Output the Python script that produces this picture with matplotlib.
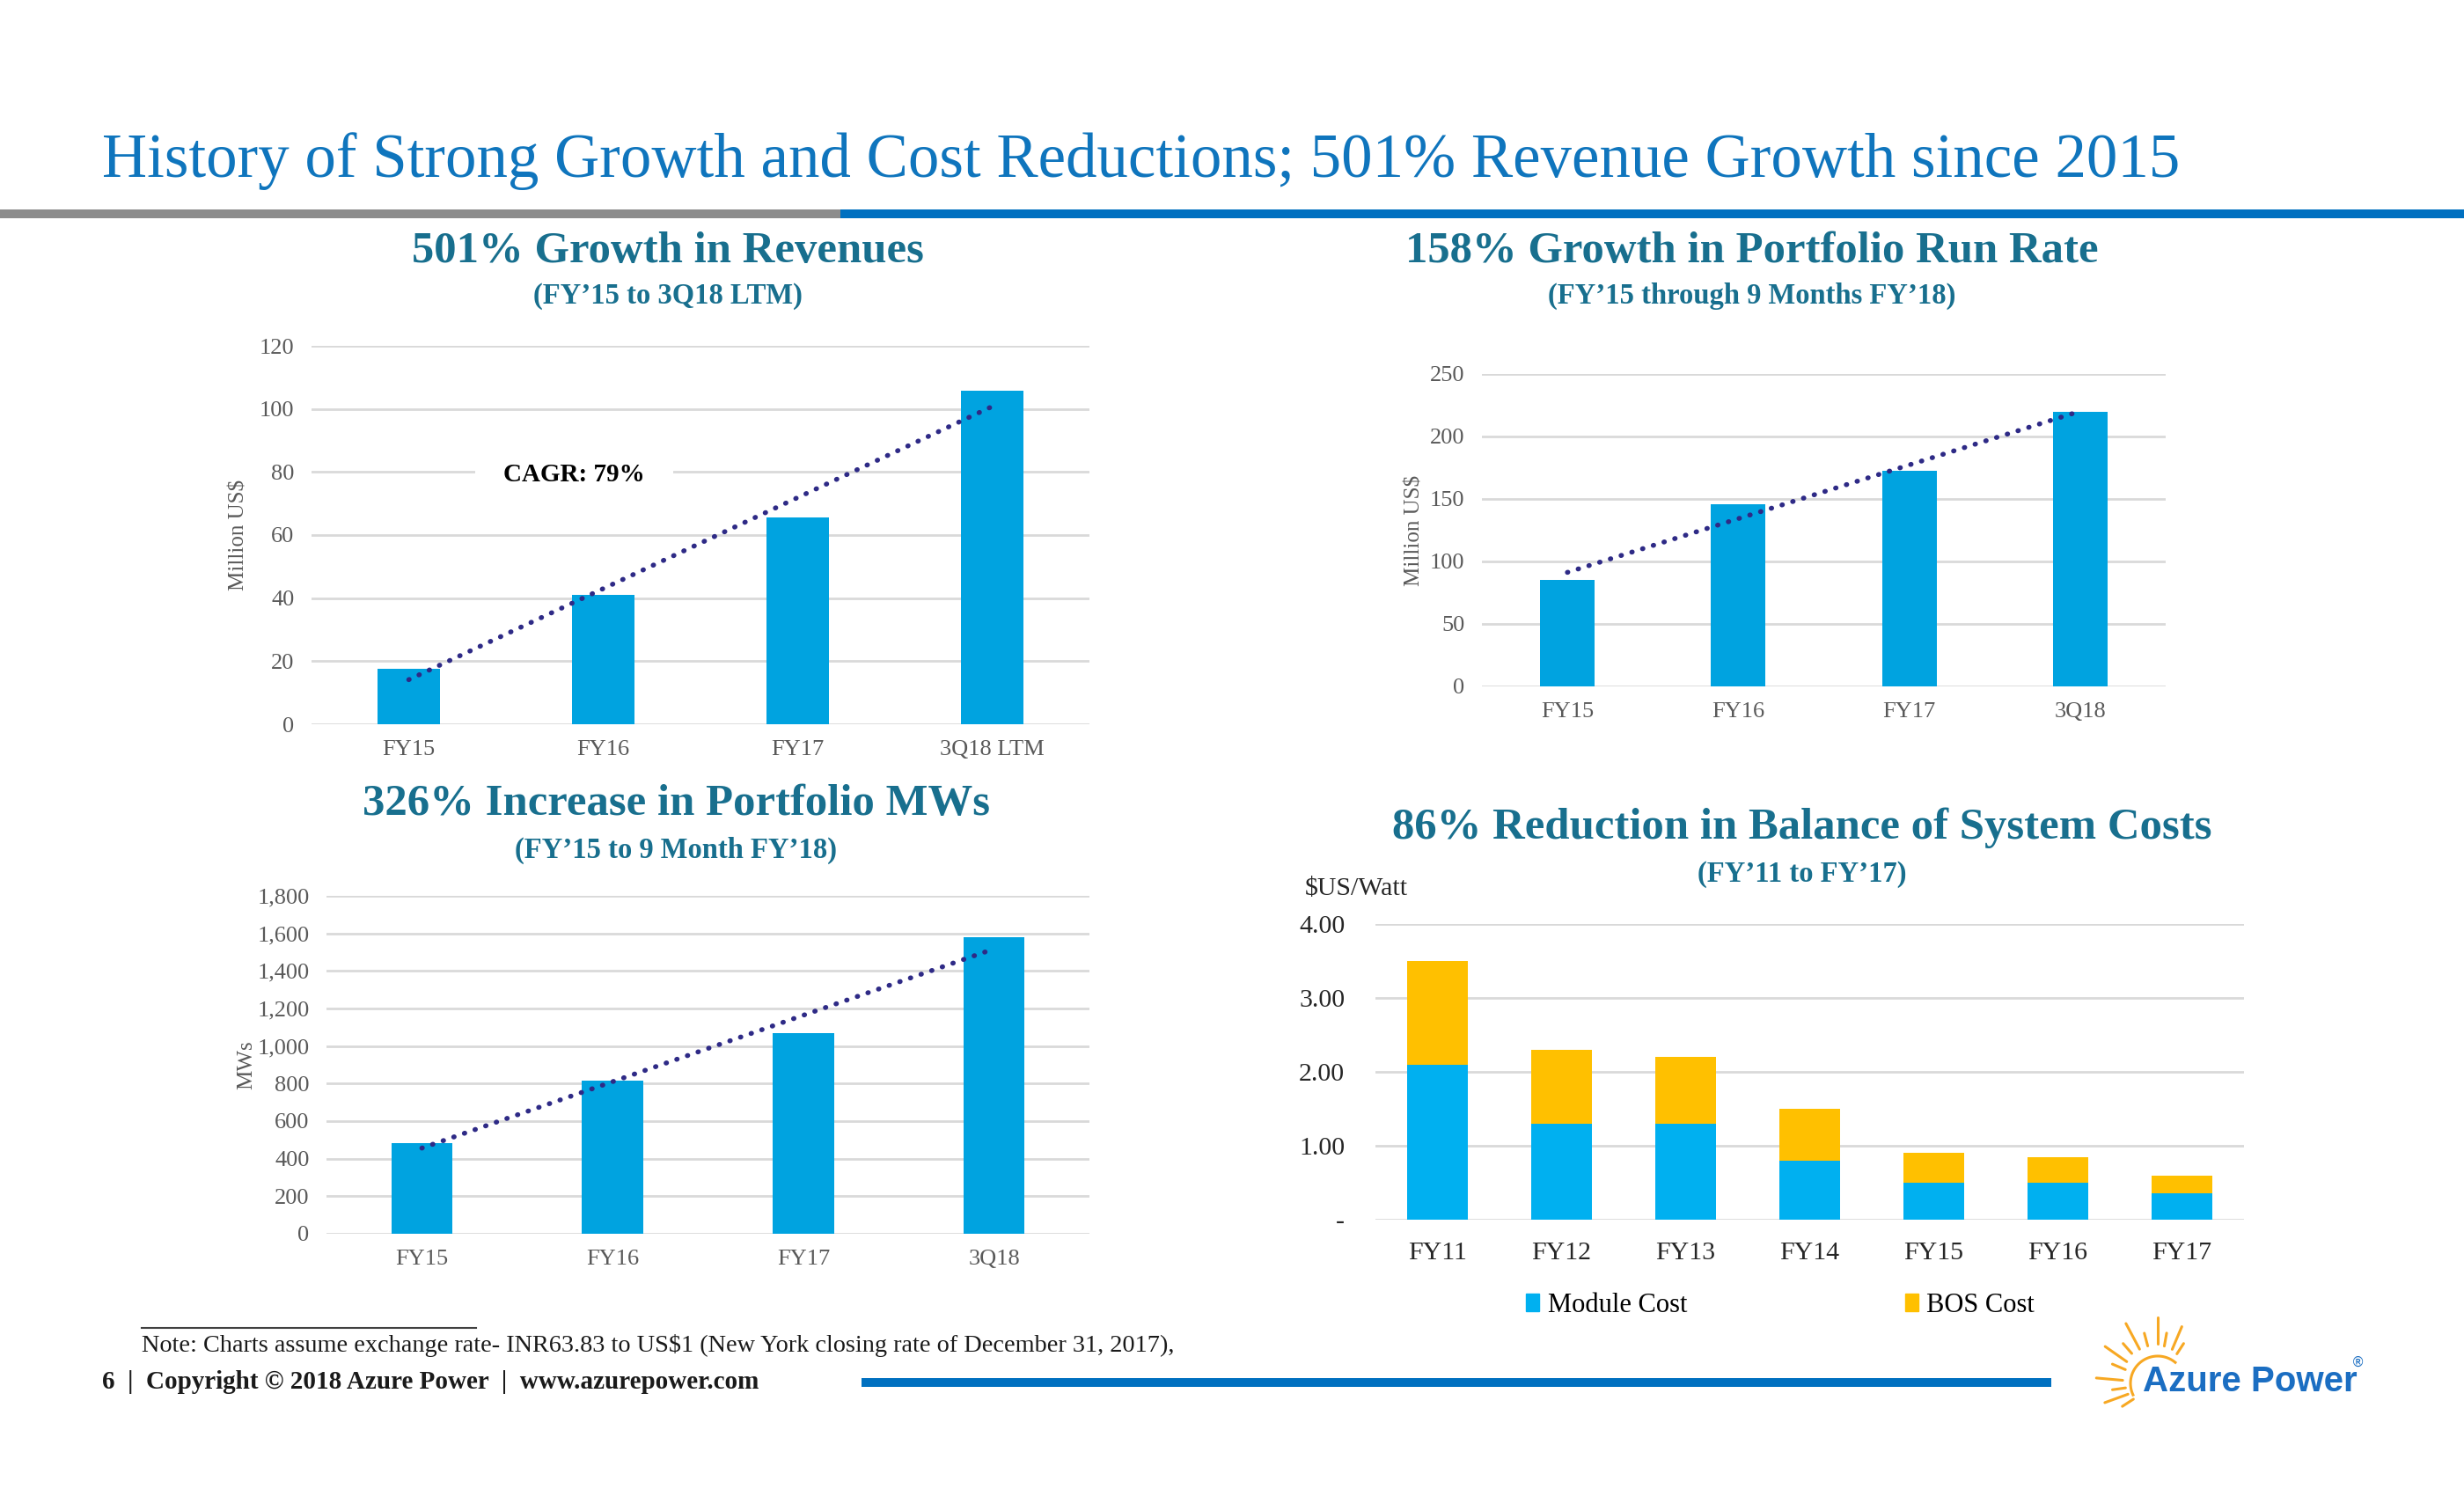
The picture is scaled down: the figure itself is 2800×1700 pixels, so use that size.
import numpy as np
import matplotlib
matplotlib.use("Agg")
import matplotlib.pyplot as plt
from matplotlib.patches import Rectangle, Patch
from matplotlib.ticker import FuncFormatter

plt.rcParams['font.family'] = ['Liberation Serif', 'DejaVu Serif']

# --- data ---
rev_cats = ['FY15', 'FY16', 'FY17', '3Q18 LTM']
rev_vals = [17.6, 41.0, 65.5, 105.7]

run_cats = ['FY15', 'FY16', 'FY17', '3Q18']
run_vals = [85, 146, 172.5, 219.5]

mw_cats = ['FY15', 'FY16', 'FY17', '3Q18']
mw_vals = [485, 815, 1068, 1580]

bos_cats = ['FY11', 'FY12', 'FY13', 'FY14', 'FY15', 'FY16', 'FY17']
module_cost = [2.10, 1.30, 1.30, 0.80, 0.50, 0.50, 0.36]
bos_cost = [1.40, 1.00, 0.90, 0.70, 0.40, 0.35, 0.23]

# colours
BAR = '#00a3e0'
MODULE = '#00b0f0'
BOS = '#ffc000'
TREND = '#2e2a86'
GRID = '#d9d9d9'
HEAD = '#0f75bd'
SUB = '#186f8e'
TICK = '#595959'

W, H = 2800, 1700
fig = plt.figure(figsize=(28, 17), dpi=100)

# background layer in pixel coords for slide decoration
bg = fig.add_axes([0, 0, 1, 1])
bg.set_xlim(0, W)
bg.set_ylim(H, 0)
bg.axis('off')


def rect(x0, y0, x1, y1):
    # pixel box -> figure fractions
    return [x0 / W, 1 - y1 / H, (x1 - x0) / W, (y1 - y0) / H]


bg.text(116, 201, 'History of Strong Growth and Cost Reductions; 501% Revenue Growth since 2015',
        fontsize=51, color=HEAD, va='baseline', ha='left')
bg.add_patch(Rectangle((0, 238), 955, 10, color='#8c8c8c', lw=0))
bg.add_patch(Rectangle((955, 238), W - 955, 10, color='#0070c0', lw=0))

titles = [
    (759, 286, 336, '501% Growth in Revenues', '(FY\u201915 to 3Q18 LTM)'),
    (1991, 286, 336, '158% Growth in Portfolio Run Rate', '(FY\u201915 through 9 Months FY\u201918)'),
    (768, 914, 966, '326% Increase in Portfolio MWs', '(FY\u201915 to 9 Month FY\u201918)'),
    (2048, 941, 993, '86% Reduction in Balance of System Costs', '(FY\u201911 to FY\u201917)'),
]
for cx, ty, sy, t, s in titles:
    bg.text(cx, ty, t, fontsize=36.5, weight='bold', color=SUB, ha='center', va='center')
    bg.text(cx, sy, s, fontsize=23.5, weight='bold', color=SUB, ha='center', va='center')


def bar_panel(box, cats, vals, ymax, step, ylabel, labx, fmt):
    ax = fig.add_axes(rect(*box))
    x = np.arange(len(cats))
    ax.bar(x, vals, width=0.32, color=BAR, zorder=2)
    k, b = np.polyfit(x, vals, 1)
    ax.plot([x[0], x[-1]], [b, k * x[-1] + b], color=TREND, lw=4,
            linestyle=(0, (0.1, 2.2)), dash_capstyle='round', zorder=3)
    ax.set_xlim(-0.5, len(cats) - 0.5)
    ax.set_ylim(0, ymax)
    ax.set_yticks(np.arange(0, ymax + step / 2, step))
    ax.yaxis.set_major_formatter(FuncFormatter(fmt))
    ax.set_xticks(x)
    ax.set_xticklabels(cats)
    ax.grid(axis='y', color=GRID, lw=2)
    ax.set_axisbelow(True)
    for sp in ax.spines.values():
        sp.set_visible(False)
    ax.tick_params(length=0, labelsize=19, labelcolor=TICK)
    ax.tick_params(axis='y', pad=14)
    ax.tick_params(axis='x', pad=13)
    ax.set_ylabel(ylabel, fontsize=18, color=TICK)
    ax.yaxis.set_label_coords(labx, 0.5)
    return ax


ax1 = bar_panel((354, 393, 1238, 823), rev_cats, rev_vals, 120, 20, 'Million US$', -0.081,
                lambda v, p: f'{v:.0f}')
ax1.text(0.85, 79, 'CAGR: 79%', fontsize=21, weight='bold', color='black', ha='center',
         va='center', zorder=4, bbox=dict(boxstyle='square,pad=1.1', fc='white', ec='none'))

ax2 = bar_panel((1684, 425, 2461, 780), run_cats, run_vals, 250, 50, 'Million US$', -0.084,
                lambda v, p: f'{v:.0f}')

ax3 = bar_panel((371, 1018, 1238, 1402), mw_cats, mw_vals, 1800, 200, 'MWs', -0.092,
                lambda v, p: f'{v:,.0f}')

# stacked cost chart
ax4 = fig.add_axes(rect(1563, 1050, 2550, 1386))
xb = np.arange(len(bos_cats))
ax4.bar(xb, module_cost, width=0.49, color=MODULE, zorder=2, label='Module Cost')
ax4.bar(xb, bos_cost, width=0.49, bottom=module_cost, color=BOS, zorder=2, label='BOS Cost')
ax4.set_xlim(-0.5, len(bos_cats) - 0.5)
ax4.set_ylim(0, 4)
ax4.set_yticks([0, 1, 2, 3, 4])
ax4.yaxis.set_major_formatter(FuncFormatter(lambda v, p: '-' if v == 0 else f'{v:.2f}'))
ax4.set_xticks(xb)
ax4.set_xticklabels(bos_cats)
ax4.grid(axis='y', color=GRID, lw=2)
ax4.set_axisbelow(True)
for sp in ax4.spines.values():
    sp.set_visible(False)
ax4.tick_params(length=0, labelsize=21.5, labelcolor='#262626')
ax4.tick_params(axis='y', pad=25)
ax4.tick_params(axis='x', pad=18)
bg.text(1483, 1010, '$US/Watt', fontsize=21.5, color='#262626', ha='left', va='center')
ax4.legend(handles=[Patch(color=MODULE, label='Module Cost'), Patch(color=BOS, label='BOS Cost')],
           loc='center', bbox_to_anchor=(0.466, -0.29), ncol=2, frameon=False, fontsize=22,
           handlelength=0.5, handleheight=0.65, handletextpad=0.3, columnspacing=8.1)

# footer
bg.plot([161, 541], [1509, 1509], color='#404040', lw=1.5)
bg.text(161, 1529, 'Note: Charts assume exchange rate- INR63.83 to US$1 (New York closing rate of December 31, 2017),',
        fontsize=20.3, color='#1a1a1a', ha='left', va='center')
bg.text(116, 1570, '6  |  Copyright \u00a9 2018 Azure Power  |  www.azurepower.com',
        fontsize=21, weight='bold', color='#1a1a1a', ha='left', va='center')
bg.add_patch(Rectangle((979, 1566), 1352, 10, color='#0070c0', lw=0))

# logo: sun rays + wordmark
cx, cy = 2452, 1572
rays = [(57, 40, 54), (67, 42, 70), (80, 43, 58), (90, 45, 75), (105, 44, 59), (118, 44, 77),
        (131, 45, 60), (145, 43, 73), (157, 40, 56), (175, 40, 70), (188, 37, 52),
        (200, 36, 64), (213, 33, 48)]
for ang, r0, r1 in rays:
    a = np.radians(ang)
    bg.plot([cx + r0 * np.cos(a), cx + r1 * np.cos(a)], [cy - r0 * np.sin(a), cy - r1 * np.sin(a)],
            color='#f7a823', lw=2.2, solid_capstyle='round')
th = np.radians(np.linspace(50, 205, 40))
bg.plot(cx + 31 * np.cos(th), cy - 31 * np.sin(th), color='#f7a823', lw=2.2)
bg.text(2435, 1581, 'Azure Power', fontsize=29, weight='bold', color='#1b6ec2',
        family='Liberation Sans', ha='left', va='baseline')
bg.text(2680, 1548, '\u00ae', fontsize=11, color='#1b6ec2', family='DejaVu Sans',
        ha='center', va='center')

fig.savefig('out.png', dpi=100)
